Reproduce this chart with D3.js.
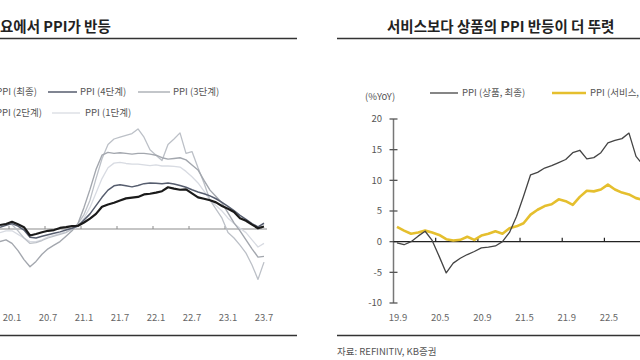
<!DOCTYPE html>
<html><head><meta charset="utf-8">
<script src="https://cdn.jsdelivr.net/npm/d3@7"></script>
<style>html,body{margin:0;padding:0;background:#fff;} svg{display:block;font-family:"Noto Sans CJK KR","Noto Sans",sans-serif;}</style>
</head><body><svg id="c" width="640" height="360"></svg>
<script>
// ---------- Left chart data (monthly, Nov 2019 .. Jul 2023) ----------
const leftStartOffset = -2; // Nov 2019 relative to Jan 2020
const leftTickLabels = ["20.1","20.7","21.1","21.7","22.1","22.7","23.1","23.7"];
const ppiFinal  = [1.1,1.4, 2.0,1.3,0.5,-1.8,-1.4,-0.9,-0.5,-0.3,0.3,0.5,0.8,0.9, 1.8,2.9,4.2,6.2,6.8,7.3,7.9,8.5,8.7,8.9,9.6,9.8, 10.1,10.5,11.6,11.2,10.9,11.0,9.9,8.8,8.4,8.0,7.4,6.4, 5.6,4.7,3.0,2.3,1.2,0.2,0.7];
const ppiStage4 = [0.5,1.0, 1.5,0.8,-0.3,-2.3,-2.5,-2.0,-1.6,-1.2,-0.8,-0.3,0.2,0.8, 2.5,4.2,6.5,8.8,10.8,12.0,12.3,12.0,11.7,12.1,12.6,12.8, 12.7,12.6,12.8,12.5,12.1,11.6,10.9,10.3,9.8,9.2,8.4,7.4, 6.3,5.1,3.8,2.7,1.5,0.6,1.6];
const ppiStage3 = [-3.5,-3.0, -4.0,-6.0,-8.5,-10.5,-9.0,-7.0,-5.5,-4.5,-3.5,-2.0,-0.5,1.5, 6.0,11.0,16.5,20.5,21.3,21.0,21.2,21.0,20.8,21.0,21.0,20.8, 20.5,19.8,19.4,19.6,19.8,19.2,17.8,16.4,13.5,10.8,9.0,7.2, 4.5,1.7,-0.5,-3.0,-5.5,-7.8,-7.6];
const ppiStage2 = [1.0,1.5, 1.2,-0.5,-2.5,-4.0,-3.8,-3.2,-2.5,-2.0,-1.5,-1.0,0.0,1.5, 4.0,8.0,14.0,19.5,23.5,25.0,25.5,26.0,26.5,27.8,25.5,22.0, 20.5,19.0,23.5,25.0,26.7,21.0,21.5,17.0,12.8,8.0,5.5,3.0, -1.0,-2.5,-4.5,-6.7,-10.0,-14.0,-9.2];
const ppiStage1 = [-1.0,-0.5, -0.5,-1.5,-2.5,-3.5,-3.5,-3.0,-2.2,-1.8,-1.2,-0.8,-0.2,0.8, 3.0,6.0,10.0,14.0,17.0,18.3,18.5,18.2,18.0,18.0,17.8,17.6, 17.8,17.5,17.5,17.4,17.2,16.0,14.5,12.8,10.5,8.0,6.5,5.0, 3.0,1.5,0.2,-1.0,-3.0,-5.0,-4.0];

// ---------- Right chart data (monthly, Sep 2019 .. Aug 2022) ----------
const rightTickLabels = ["19.9","20.5","20.9","21.5","21.9","22.5"];
const rightYTicks = [-10,-5,0,5,10,15,20];
const ppiGoods    = [-0.2,-0.5,0.0,0.9, 1.7,0.2,-2.4,-5.1,-3.5,-2.7,-2.1,-1.6,-1.0,-0.9,-0.7,0.0, 1.5,4.1,7.4,10.9,11.3,12.0,12.4,12.9,13.4,14.5,14.9,13.5, 13.7,14.5,16.1,16.5,16.8,17.7,13.9,12.5];
const ppiServices = [2.4,1.8,1.3,1.5, 1.8,1.5,1.1,0.4,0.2,0.3,0.8,0.3,1.0,1.3,1.7,1.3, 2.2,2.5,3.0,4.4,5.2,5.8,6.1,6.9,6.6,6.0,7.3,8.3, 8.2,8.5,9.3,8.5,8.0,7.7,7.1,6.8];

const svg = d3.select("#c");
const txtCol = "#555";

// ---------- Left chart ----------
const xL = d3.scaleLinear().domain([0, 42]).range([12, 264]);
const yL = d3.scaleLinear().domain([-20, 30]).range([301, 121]);

svg.append("text").attr("x", 0).attr("y", 32).attr("font-size", 14.5).attr("font-weight", "bold").attr("fill", "#222").text("요에서 PPI가 반등");
svg.append("line").attr("x1", 0).attr("x2", 297).attr("y1", 38.5).attr("y2", 38.5).attr("stroke", "#333").attr("stroke-width", 1.6);
svg.append("line").attr("x1", 0).attr("x2", 297).attr("y1", 335.5).attr("y2", 335.5).attr("stroke", "#333").attr("stroke-width", 1.6);

// legend left
const legL = [
  {t:"PPI (최종)", anchor:"end", x:37, y:92},
  {t:"PPI (4단계)", x:80, y:92, lx:[48,77], col:"#565d6e", w:1.5},
  {t:"PPI (3단계)", x:173, y:92, lx:[138,170], col:"#a3a7ae", w:1.3},
  {t:"PPI (2단계)", anchor:"end", x:42, y:113},
  {t:"PPI (1단계)", x:85, y:113, lx:[52,80], col:"#d8dbe2", w:1.3}
];
legL.forEach(d => {
  if (d.lx) svg.append("line").attr("x1", d.lx[0]).attr("x2", d.lx[1]).attr("y1", d.y).attr("y2", d.y).attr("stroke", d.col).attr("stroke-width", d.w);
  svg.append("text").attr("x", d.x).attr("y", d.y).attr("dy", "0.35em").attr("text-anchor", d.anchor || "start").attr("font-size", 9.5).attr("fill", txtCol).text(d.t);
});

// zero axis
svg.append("line").attr("x1", 0).attr("x2", xL(42) + 3).attr("y1", yL(0)).attr("y2", yL(0)).attr("stroke", "#8c8c8c").attr("stroke-width", 1.2);
leftTickLabels.forEach((t, i) => {
  const m = i * 6;
  svg.append("line").attr("x1", xL(m) - 3).attr("x2", xL(m) - 3).attr("y1", yL(0)).attr("y2", yL(0) - 3).attr("stroke", "#8c8c8c").attr("stroke-width", 1);
  svg.append("text").attr("x", xL(m)).attr("y", 318).attr("dy", "0.35em").attr("text-anchor", "middle").attr("font-size", 9.5).attr("fill", "#666").text(t);
});

const lineL = d3.line().x((d, i) => xL(i + leftStartOffset)).y(d => yL(d));
const leftSeries = [
  {d: ppiStage1, col: "#d8dbe2", w: 1.3},
  {d: ppiStage2, col: "#bcc0c7", w: 1.3},
  {d: ppiStage3, col: "#a3a7ae", w: 1.4},
  {d: ppiStage4, col: "#565d6e", w: 1.5},
  {d: ppiFinal,  col: "#1a1a1a", w: 2.2}
];
leftSeries.forEach(s => {
  svg.append("path").datum(s.d).attr("d", lineL).attr("fill", "none").attr("stroke", s.col).attr("stroke-width", s.w).attr("stroke-linejoin", "round");
});

// ---------- Right chart ----------
const xR = d3.scaleLinear().domain([0, 34]).range([397, 397 + 7.03 * 34]);
const yR = d3.scaleLinear().domain([-10, 20]).range([303, 119]);

svg.append("text").attr("x", 387).attr("y", 32).attr("font-size", 14.5).attr("font-weight", "bold").attr("fill", "#222").text("서비스보다 상품의 PPI 반등이 더 뚜렷");
svg.append("line").attr("x1", 337).attr("x2", 640).attr("y1", 38.5).attr("y2", 38.5).attr("stroke", "#333").attr("stroke-width", 1.6);
svg.append("line").attr("x1", 337).attr("x2", 640).attr("y1", 335.5).attr("y2", 335.5).attr("stroke", "#333").attr("stroke-width", 1.6);
svg.append("text").attr("x", 337).attr("y", 352).attr("dy", "0.35em").attr("font-size", 9.5).attr("fill", txtCol).text("자료: REFINITIV, KB증권");

svg.append("text").attr("x", 365).attr("y", 97).attr("dy", "0.35em").attr("font-size", 9.5).attr("fill", txtCol).text("(%YoY)");
svg.append("line").attr("x1", 430).attr("x2", 458).attr("y1", 93).attr("y2", 93).attr("stroke", "#444").attr("stroke-width", 1.3);
svg.append("text").attr("x", 462).attr("y", 93).attr("dy", "0.35em").attr("font-size", 9.5).attr("fill", txtCol).text("PPI (상품, 최종)");
svg.append("line").attr("x1", 552).attr("x2", 586).attr("y1", 93).attr("y2", 93).attr("stroke", "#e5bf2e").attr("stroke-width", 2.6);
svg.append("text").attr("x", 590).attr("y", 93).attr("dy", "0.35em").attr("font-size", 9.5).attr("fill", txtCol).text("PPI (서비스, 최종)");

// y axis
const axX = xR(0) - 3.5;
svg.append("line").attr("x1", axX).attr("x2", axX).attr("y1", yR(20)).attr("y2", yR(-10)).attr("stroke", "#777").attr("stroke-width", 1.5);
rightYTicks.forEach(v => {
  svg.append("line").attr("x1", axX - 4).attr("x2", axX + 4).attr("y1", yR(v)).attr("y2", yR(v)).attr("stroke", "#555").attr("stroke-width", 1.3);
  svg.append("text").attr("x", 382).attr("y", yR(v)).attr("dy", "0.35em").attr("text-anchor", "end").attr("font-size", 9.5).attr("fill", txtCol).text(v);
});
// zero axis
svg.append("line").attr("x1", axX).attr("x2", 640).attr("y1", yR(0)).attr("y2", yR(0)).attr("stroke", "#222").attr("stroke-width", 1.4);
rightTickLabels.forEach((t, i) => {
  const m = i * 6;
  if (i > 0) svg.append("line").attr("x1", xR(m) - 3.5).attr("x2", xR(m) - 3.5).attr("y1", yR(0)).attr("y2", yR(0) - 4).attr("stroke", "#222").attr("stroke-width", 1.2);
  svg.append("text").attr("x", xR(m) + 1).attr("y", 318).attr("dy", "0.35em").attr("text-anchor", "middle").attr("font-size", 9.5).attr("fill", "#666").text(t);
});

const lineR = d3.line().x((d, i) => xR(i)).y(d => yR(d));
svg.append("path").datum(ppiServices).attr("d", lineR).attr("fill", "none").attr("stroke", "#e5bf2e").attr("stroke-width", 2.6).attr("stroke-linejoin", "round");
svg.append("path").datum(ppiGoods).attr("d", lineR).attr("fill", "none").attr("stroke", "#444").attr("stroke-width", 1.3).attr("stroke-linejoin", "round");
</script>
</body></html>
